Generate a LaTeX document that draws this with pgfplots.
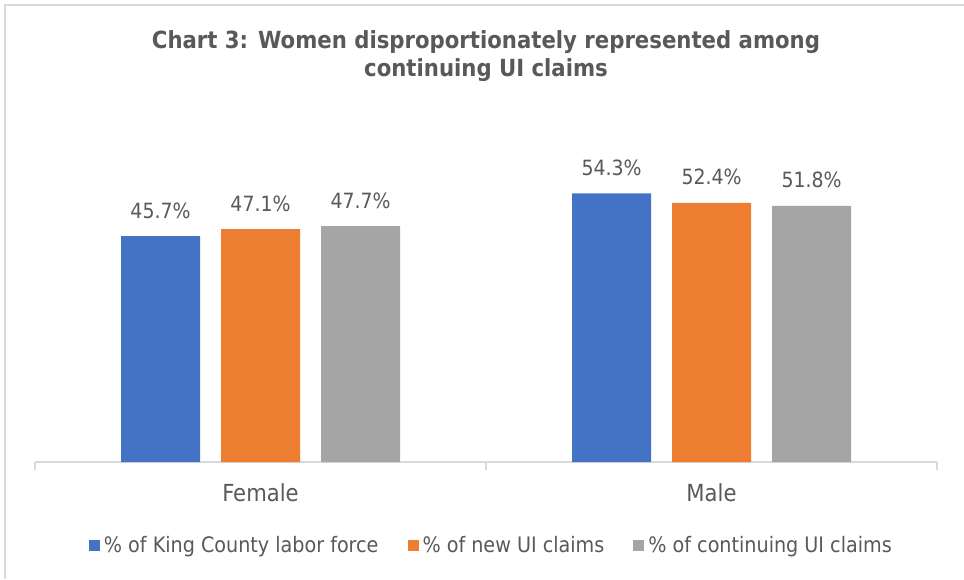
\documentclass[border=0pt]{standalone}
\usepackage{fontspec}
\setmainfont{DejaVu Sans Condensed}
\usepackage{pgfplots}
\pgfplotsset{compat=1.18}
\definecolor{cblue}{HTML}{4472C4}
\definecolor{corange}{HTML}{ED7D31}
\definecolor{cgray}{HTML}{A5A5A5}
\definecolor{ctext}{HTML}{595959}
\definecolor{cline}{HTML}{D9D9D9}
\begin{document}
\begin{tikzpicture}
\useasboundingbox (0pt,0pt) rectangle (964pt,579pt);
\fill[white] (0pt,0pt) rectangle (964pt,579pt);
\draw[cline,line width=2pt] (5pt,0pt) -- (5pt,574pt) -- (964pt,574pt);
\node[anchor=base,text=ctext,font=\fontsize{23.6}{28}\selectfont\bfseries] at (486pt,530pt) {Chart 3: Women disproportionately represented among};
\node[anchor=base,text=ctext,font=\fontsize{23.6}{28}\selectfont\bfseries] at (486pt,502pt) {continuing UI claims};
\begin{axis}[
  at={(35pt,117pt)}, anchor=south west,
  scale only axis, width=902pt, height=296.7pt,
  ymin=0, ymax=60, xmin=-0.5, xmax=1.5,
  axis y line=none, axis x line*=bottom,
  axis line style={cline,line width=1.5pt},
  ybar=21pt, bar width=79pt,
  xtick={0,1}, xticklabels={Female,Male},
  major tick length=0pt,
  minor xtick={-0.5,0.5,1.5}, minor tick length=8pt,
  tick align=outside,
  every minor tick/.style={cline,line width=1.5pt},
  xticklabel style={anchor=base,yshift=-39pt,text=ctext,font=\fontsize{23.5}{28}\selectfont},
  /pgf/number format/assume math mode=true,
  /pgf/number format/.cd, fixed, fixed zerofill, precision=1, /pgfplots/.cd,
  nodes near coords={\pgfmathprintnumber{\pgfplotspointmeta}\%},
  nodes near coords style={anchor=base,yshift=18pt,text=ctext,font=\fontsize{21}{25}\selectfont},
  legend style={at={(0.506,-0.28)},anchor=center,draw=none,fill=none,
    font=\fontsize{21.3}{25}\selectfont,text=ctext,
    /tikz/every even column/.append style={column sep=27pt}},
  legend columns=3, legend cell align=left,
  clip=false,
]
\addplot[fill=cblue,draw=none,legend image code/.code={\fill[cblue] (0pt,-5.5pt) rectangle (11pt,5.5pt);\path (13pt,0pt);}] coordinates {(0,45.7) (1,54.3)};
\addplot[fill=corange,draw=none,legend image code/.code={\fill[corange] (0pt,-5.5pt) rectangle (11pt,5.5pt);\path (13pt,0pt);}] coordinates {(0,47.1) (1,52.4)};
\addplot[fill=cgray,draw=none,legend image code/.code={\fill[cgray] (0pt,-5.5pt) rectangle (11pt,5.5pt);\path (13pt,0pt);}] coordinates {(0,47.7) (1,51.8)};
\legend{\% of King County labor force,\% of new UI claims,\% of continuing UI claims}
\end{axis}
\end{tikzpicture}
\end{document}
